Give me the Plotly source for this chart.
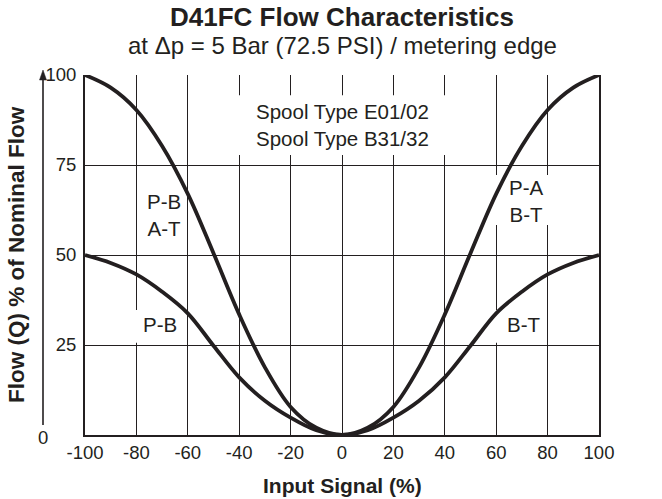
import plotly.graph_objects as go

# ---- data ----
input_signal = [-100, -90, -80, -70, -60, -50, -40, -30, -20, -10, 0,
                10, 20, 30, 40, 50, 60, 70, 80, 90, 100]
flow_E = [100, 96.5, 90.3, 80.3, 67, 50.5, 33.5, 18.8, 7.8, 2.0, 0,
          2.0, 7.8, 18.8, 33.5, 50.5, 67, 80.3, 90.3, 96.5, 100]
flow_B = [50, 47.8, 44.6, 39.8, 33.8, 24.8, 16.0, 9.5, 4.8, 1.3, 0,
          1.3, 4.8, 9.5, 16.0, 24.8, 33.8, 39.8, 44.6, 47.8, 50]
x_ticks = [-100, -80, -60, -40, -20, 0, 20, 40, 60, 80, 100]
y_ticks = [25, 50, 75, 100]

INK = "#231f20"
FONT = "Liberation Sans, Arial, Helvetica, sans-serif"
LBL = 20.5

# page-pixel geometry of the plot area
PL, PR, PT, PB = 85, 599, 75, 435
PW, PH = PR - PL, PB - PT


def px_x(p):
    return (p - PL) / PW


def px_y(p):
    return (PB - p) / PH


fig = go.Figure()
for ys in (flow_E, flow_B):
    fig.add_trace(go.Scatter(
        x=input_signal, y=ys, mode="lines",
        line=dict(color=INK, width=3.8, shape="spline", smoothing=1.0),
        showlegend=False, hoverinfo="skip"))

fig.update_layout(
    width=662, height=499,
    margin=dict(l=PL, r=662 - PR, t=PT, b=499 - PB),
    paper_bgcolor="white", plot_bgcolor="white",
    font=dict(family=FONT, color=INK, size=18),
    showlegend=False,
)

fig.update_xaxes(
    range=[-100, 100], tickvals=x_ticks, ticktext=[str(v) for v in x_ticks],
    showgrid=True, gridcolor=INK, gridwidth=1.2,
    showline=True, linecolor=INK, linewidth=2, mirror=False,
    zeroline=False, ticks="", ticklabelstandoff=0,
    tickfont=dict(size=18.5, color=INK, family=FONT),
)
fig.update_yaxes(
    range=[0, 100], tickvals=y_ticks, ticktext=[str(v) for v in y_ticks],
    showgrid=True, gridcolor=INK, gridwidth=1.2,
    showline=True, linecolor=INK, linewidth=2, mirror=True,
    zeroline=False, ticks="", ticklabelstandoff=3,
    tickfont=dict(size=18.5, color=INK, family=FONT),
)

# white boxes that interrupt the grid behind the labels (drawn under the curves)
boxes = [(-41.5, 41.5, 77.8, 94.4),
         (59, 81, 58.3, 72.2),
         (-81, -63, 25.6, 34.7),
         (59, 78, 25.6, 34.7)]
shapes = []
for x0, x1, y0, y1 in boxes:
    shapes.append(dict(type="rect", xref="x", yref="y", x0=x0, x1=x1, y0=y0, y1=y1,
                       fillcolor="white", line=dict(width=0), layer="between"))
# vertical arrow line of the y axis
ax_x = px_x(43)
shapes.append(dict(type="line", xref="paper", yref="paper", x0=ax_x, x1=ax_x,
                   y0=px_y(425), y1=px_y(78), line=dict(color=INK, width=1.6)))
hw = 3.5 / PW
shapes.append(dict(type="path", xref="paper", yref="paper",
                   path=f"M {ax_x - hw},{px_y(80)} L {ax_x + hw},{px_y(80)} L {ax_x},{px_y(70)} Z",
                   fillcolor=INK, line=dict(color=INK, width=0.5)))
fig.update_layout(shapes=shapes)

ann = []
# titles
ann.append(dict(text="<b>D41FC Flow Characteristics</b>", xref="paper", yref="paper",
                x=0.5, y=px_y(17), xanchor="center", yanchor="middle",
                showarrow=False, font=dict(size=26, color=INK, family=FONT)))
ann.append(dict(text="at \u0394p = 5 Bar (72.5 PSI) / metering edge", xref="paper", yref="paper",
                x=0.5, y=px_y(45), xanchor="center", yanchor="middle",
                showarrow=False, font=dict(size=24, color=INK, family=FONT)))
ann.append(dict(text="<b>Input Signal (%)</b>", xref="paper", yref="paper",
                x=0.5, y=px_y(485), xanchor="center", yanchor="middle",
                showarrow=False, font=dict(size=21, color=INK, family=FONT)))
ann.append(dict(text="<b>Flow (Q) % of Nominal Flow</b>", xref="paper", yref="paper",
                x=px_x(16), y=px_y(255), xanchor="center", yanchor="middle", textangle=-90,
                showarrow=False, font=dict(size=22.5, color=INK, family=FONT)))
ann.append(dict(text="0", xref="paper", yref="paper", x=ax_x, y=px_y(437),
                xanchor="center", yanchor="middle", showarrow=False,
                font=dict(size=18.5, color=INK, family=FONT)))
# in-plot labels
ann.append(dict(text="Spool Type E01/02<br>Spool Type B31/32", x=0, y=86, xref="x", yref="y",
                showarrow=False, font=dict(size=LBL, color=INK, family=FONT)))
ann.append(dict(text="P-B<br>A-T", x=-69.3, y=61.1, showarrow=False,
                font=dict(size=LBL, color=INK, family=FONT)))
ann.append(dict(text="P-A<br>B-T", x=71.6, y=65, showarrow=False,
                font=dict(size=LBL, color=INK, family=FONT)))
ann.append(dict(text="P-B", x=-70.8, y=30.6, showarrow=False,
                font=dict(size=LBL, color=INK, family=FONT)))
ann.append(dict(text="B-T", x=70.8, y=30.6, showarrow=False,
                font=dict(size=LBL, color=INK, family=FONT)))
# outside right labels
ann.append(dict(text="(E*)", x=110.8, y=100, xref="x", yref="y", showarrow=False,
                xanchor="center", yanchor="middle", font=dict(size=LBL, color=INK, family=FONT)))
ann.append(dict(text="50%<br>(B*)", x=111.3, y=49.6, xref="x", yref="y", showarrow=False,
                xanchor="center", yanchor="middle", font=dict(size=LBL, color=INK, family=FONT)))
fig.update_layout(annotations=ann)

fig.write_html("out.html", config={"displayModeBar": False},
               post_script="document.body.style.margin='0';document.body.style.padding='0';")
